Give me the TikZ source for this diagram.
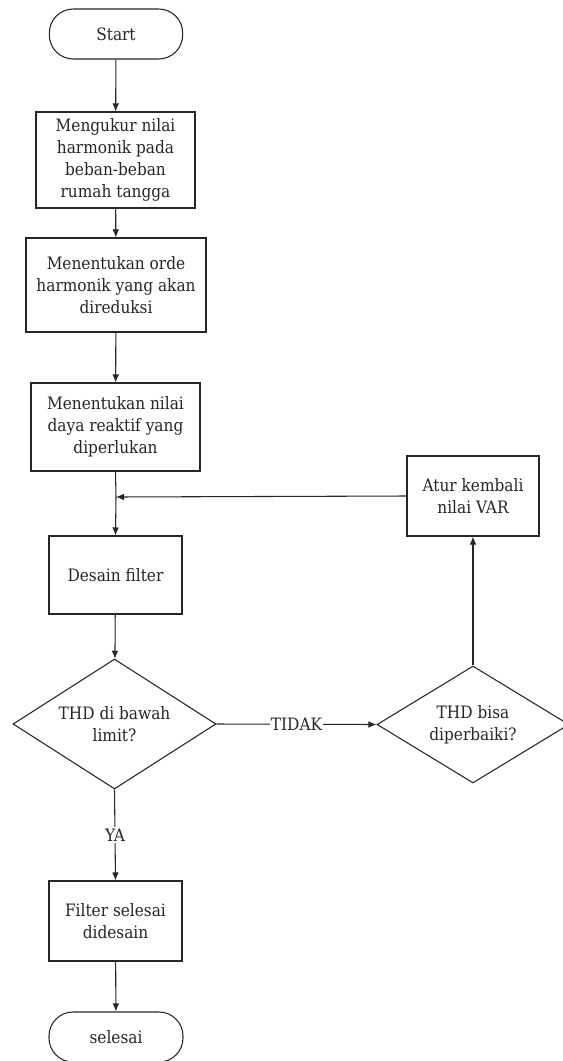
\documentclass[tikz,border=0pt]{standalone}
\usepackage{fontspec}
\setmainfont{DejaVu Serif Condensed}
\usetikzlibrary{shapes.geometric,arrows.meta}
\begin{document}
\begin{tikzpicture}[x=0.75pt,y=-0.75pt,
  every node/.style={font=\fontsize{12.8pt}{16.3pt}\selectfont,text=black!85,align=center,inner sep=2pt},
  box/.style={draw=black!85,line width=0.8pt,rectangle},
  term/.style={draw=black!85,line width=0.8pt,rectangle,rounded corners=18pt},
  dec/.style={draw=black!85,line width=0.8pt,diamond,inner sep=0pt},
  arr/.style={draw=black!85,line width=0.8pt,-{Latex[length=6pt,width=5pt]}},
  ln/.style={draw=black!85,line width=0.8pt},
  lbl/.style={fill=white,inner sep=1pt}]
\useasboundingbox (0,0) rectangle (562,1061);
\fill[white] (0,0) rectangle (562,1061);
\node[term,minimum width=100pt,minimum height=37.5pt] (start) at (116,34) {Start};
\node[box,minimum width=119.25pt,minimum height=72pt] (b1) at (115.5,160) {Mengukur nilai\\harmonik pada\\beban-beban\\rumah tangga};
\node[box,minimum width=135pt,minimum height=70.5pt] (b2) at (116,285) {Menentukan orde\\harmonik yang akan\\direduksi};
\node[box,minimum width=126.75pt,minimum height=66pt] (b3) at (115.5,427) {Menentukan nilai\\daya reaktif yang\\diperlukan};
\node[box,minimum width=99.75pt,minimum height=58.5pt] (ds) at (115.5,575) {Desain filter};
\node[dec,shape aspect=1.56,minimum width=152.25pt,minimum height=97.5pt] (d1) at (114.5,724) {THD di bawah\\limit?};
\node[box,minimum width=99.75pt,minimum height=60pt] (fs) at (115.5,921) {Filter selesai\\didesain};
\node[term,minimum width=100.5pt,minimum height=37.5pt] (end) at (116,1037) {selesai};
\node[box,minimum width=99pt,minimum height=60pt] (atur) at (473,496) {Atur kembali\\nilai VAR};
\node[dec,shape aspect=1.64,minimum width=144pt,minimum height=87.75pt] (d2) at (473,724.5) {THD bisa\\diperbaiki?};
\coordinate (j) at (116,497);
\draw[arr] (start) -- (b1);
\draw[arr] (b1) -- (b2);
\draw[arr] (b2) -- (b3);
\draw[ln] (b3.south) -- (j);
\draw[arr] (j) -- (ds.north);
\draw[arr] (ds) -- (d1);
\draw[arr] (d1.east) -- node[lbl,pos=0.5] (tidak) {TIDAK} (d2.west);
\draw[arr] (d1.south) -- node[lbl,pos=0.5] (ya) {YA} (fs.north);
\draw[arr] (fs) -- (end);
\draw[arr] (d2.north) -- (atur.south);
\draw[arr] (atur.west) -- (j);
\end{tikzpicture}
\end{document}
